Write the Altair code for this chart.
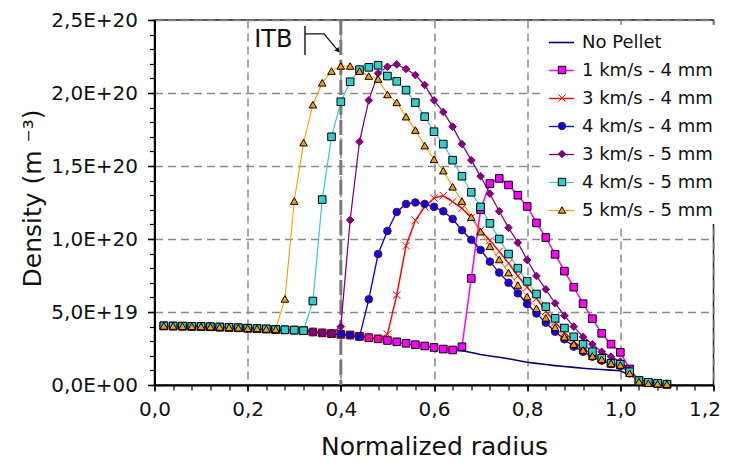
import altair as alt
import pandas as pd

# ---------------- data (density in units of 1E+18 m^-3) ----------------
R = [0.02, 0.04, 0.06, 0.08, 0.10, 0.12, 0.14, 0.16, 0.18, 0.20,
     0.22, 0.24, 0.26, 0.28, 0.30, 0.32, 0.34, 0.36, 0.38, 0.40,
     0.42, 0.44, 0.46, 0.48, 0.50, 0.52, 0.54, 0.56, 0.58, 0.60,
     0.62, 0.64, 0.66, 0.68, 0.70, 0.72, 0.74, 0.76, 0.78, 0.80,
     0.82, 0.84, 0.86, 0.88, 0.90, 0.92, 0.94, 0.96, 0.98, 1.00,
     1.02, 1.04, 1.06, 1.08, 1.10]

SERIES = ["No Pellet", "1 km/s - 4 mm", "3 km/s - 4 mm", "4 km/s - 4 mm",
          "3 km/s - 5 mm", "4 km/s - 5 mm", "5 km/s - 5 mm"]

NO_PELLET = [40.5, 40.4, 40.3, 40.2, 40.1, 39.9, 39.7, 39.5, 39.2, 38.9,
             38.7, 38.4, 38.1, 37.8, 37.6, 37.2, 36.3, 35.7, 35.2, 34.7,
             34.2, 33.3, 32.4, 31.6, 30.5, 29.6, 28.6, 27.6, 26.7, 25.7,
             24.6, 24.0, 23.4, 22.2, 20.9, 19.9, 19.0, 18.0, 16.8, 15.6,
             14.8, 14.0, 13.3, 12.7, 12.1, 11.5, 11.0, 10.6, 10.2, 9.8,
             6.8, 3.5, 2.0, 1.2, 0.6]

V1_4MM = [40.5, 40.4, 40.3, 40.2, 40.1, 39.9, 39.7, 39.5, 39.2, 38.9,
          38.7, 38.4, 38.1, 37.8, 37.6, 37.2, 36.3, 35.7, 35.2, 34.7,
          34.2, 33.3, 32.4, 31.6, 30.5, 29.6, 28.6, 27.6, 26.7, 25.7,
          24.6, 24.0, 26.2, 73.0, 120.0, 138.0, 141.5, 137.0, 130.0, 122.3,
          111.0, 101.0, 89.5, 78.0, 67.0, 55.7, 45.4, 35.4, 28.0, 22.4,
          11.0, 3.0, 1.6, 1.0, 0.5]

V3_4MM = [40.5, 40.4, 40.3, 40.2, 40.1, 39.9, 39.7, 39.5, 39.2, 38.9,
          38.7, 38.4, 38.1, 37.8, 37.6, 37.2, 36.3, 35.7, 35.2, 34.7,
          34.2, 33.3, 32.4, 31.6, 34.7, 61.6, 95.4, 112.8, 122.0, 128.0,
          129.7, 125.5, 121.0, 114.6, 106.0, 99.0, 91.5, 83.5, 74.7, 67.0,
          59.4, 50.5, 43.0, 36.0, 30.0, 24.6, 20.8, 17.6, 14.8, 13.7,
          8.5, 3.0, 1.6, 1.0, 0.5]

V4_4MM = [40.5, 40.4, 40.3, 40.2, 40.1, 39.9, 39.7, 39.5, 39.2, 38.9,
          38.7, 38.4, 38.1, 37.8, 37.6, 37.2, 36.3, 35.7, 35.2, 34.7,
          34.2, 33.0, 58.7, 89.7, 105.5, 118.5, 124.0, 125.0, 124.0, 122.0,
          119.0, 113.7, 106.0, 99.5, 92.5, 84.5, 77.0, 70.0, 62.8, 55.5,
          49.0, 42.7, 36.5, 31.3, 26.3, 22.8, 19.4, 16.7, 14.4, 13.0,
          8.0, 2.8, 1.5, 1.0, 0.5]

V3_5MM = [40.5, 40.4, 40.3, 40.2, 40.1, 39.9, 39.7, 39.5, 39.2, 38.9,
          38.7, 38.4, 38.1, 37.8, 37.6, 37.2, 36.3, 35.7, 35.2, 40.0,
          113.0, 166.6, 195.0, 213.5, 218.0, 219.6, 216.4, 212.3, 205.5, 195.0,
          187.0, 177.0, 165.0, 154.0, 143.0, 131.0, 119.0, 107.7, 97.5, 85.6,
          74.7, 65.5, 56.0, 47.5, 40.0, 33.0, 27.9, 22.8, 19.4, 16.0,
          10.5, 3.5, 1.8, 1.1, 0.5]

V4_5MM = [40.5, 40.4, 40.3, 40.2, 40.1, 39.9, 39.7, 39.5, 39.2, 38.9,
          38.7, 38.4, 38.1, 37.8, 37.6, 37.2, 57.5, 127.0, 170.0, 194.0,
          207.7, 216.0, 217.6, 219.0, 211.6, 208.0, 202.0, 193.4, 183.8, 173.5,
          165.0, 154.0, 143.0, 132.0, 122.0, 110.7, 100.0, 89.7, 80.0, 71.0,
          62.3, 53.6, 45.7, 39.0, 33.0, 27.9, 22.8, 18.3, 14.8, 14.2,
          9.1, 3.0, 1.8, 1.2, 0.6]

V5_5MM = [40.5, 40.4, 40.3, 40.2, 40.1, 39.9, 39.7, 39.5, 39.2, 38.9,
          38.7, 38.4, 38.1, 59.0, 126.0, 166.0, 192.0, 207.0, 215.0, 218.5,
          218.5, 215.0, 211.6, 209.6, 199.0, 193.6, 183.8, 174.6, 164.0, 154.6,
          146.8, 135.8, 126.0, 115.0, 105.0, 95.0, 86.0, 77.0, 68.5, 60.5,
          52.5, 46.0, 39.5, 33.0, 28.0, 24.0, 19.9, 17.6, 14.8, 13.7,
          8.0, 2.3, 1.2, 0.9, 0.6]

VALUES = [NO_PELLET, V1_4MM, V3_4MM, V4_4MM, V3_5MM, V4_5MM, V5_5MM]
UNIT = 1e18

X_TICKS = [0.0, 0.2, 0.4, 0.6, 0.8, 1.0, 1.2]
Y_TICKS = [0.0, 5e19, 1e20, 1.5e20, 2e20, 2.5e20]
X_MINOR = [0.0, 0.04, 0.08, 0.12, 0.16, 0.2, 0.24, 0.28, 0.32, 0.36, 0.4,
           0.44, 0.48, 0.52, 0.56, 0.6, 0.64, 0.68, 0.72, 0.76, 0.8,
           0.84, 0.88, 0.92, 0.96, 1.0, 1.04, 1.08, 1.12, 1.16, 1.2]
Y_MINOR = [0, 1e19, 2e19, 3e19, 4e19, 5e19, 6e19, 7e19, 8e19, 9e19, 1e20,
           1.1e20, 1.2e20, 1.3e20, 1.4e20, 1.5e20, 1.6e20, 1.7e20, 1.8e20,
           1.9e20, 2e20, 2.1e20, 2.2e20, 2.3e20, 2.4e20, 2.5e20]

# ITB annotation (data coordinates)
ITB_R = [0.4]
ITB_LABEL = ["ITB"]
ITB_LABEL_POS = [0.255, 236.0]
ITB_BAR = [0.323, 226.0, 246.0]
ITB_ARROW_R = [0.323, 0.364, 0.394]
ITB_ARROW_N = [240.5, 240.5, 229.0]

# ---------------- style ----------------
LINE_COLORS = ["#000080", "#FF00FF", "#FF0000", "#0000FF", "#800080", "#33CCCC", "#FF9900"]
LINE_WIDTHS = [1.6, 1.1, 1.1, 1.1, 1.1, 1.1, 1.1]
PT_SERIES = SERIES[1:]
MARKER_FILLS = ["#FF00FF", "#FF0000", "#0000FF", "#800080", "#33CCCC", "#FF9900"]
MARKER_EDGES = ["#000000", "#FF0000", "#800000", "#800080", "#000000", "#000000"]
MARKER_SHAPES = ["square", "M-1,-1L1,1M-1,1L1,-1", "circle", "diamond", "square", "triangle-up"]
FONT = "DejaVu Sans"

rows = []
for k, (name, vals) in enumerate(zip(SERIES, VALUES)):
    for r, v in zip(R, vals):
        rows.append({"series": name, "rank": k, "r": r, "n": v * UNIT})
df = pd.DataFrame(rows)

xs = alt.Scale(domain=[0, 1.2], nice=False, zero=False)
ys = alt.Scale(domain=[0, 2.5e20], nice=False, zero=False)

x_main = alt.Axis(
    orient="bottom", values=X_TICKS,
    labelExpr="replace(format(datum.value, '.1f'), '.', ',')",
    labelFont=FONT, labelFontSize=20, labelColor="#111111", labelFlush=False,
    labelOffset={"condition": {"test": "datum.value > 1.1", "value": -9}, "value": 0},
    labelPadding=8, tickSize=6, tickWidth=1.5, tickColor="#000000",
    domainColor="#000000", domainWidth=2,
    grid=True, gridColor="#8a8a8a", gridDash=[8, 5], gridWidth=1.5,
    title="Normalized radius", titleFont=FONT, titleFontSize=25,
    titleFontWeight="normal", titleColor="#111111", titleY=69,
    titleBaseline="alphabetic",
)
y_main = alt.Axis(
    orient="left", values=Y_TICKS,
    labelExpr=("datum.value == 0 ? '0,0E+00' : "
               "replace(format(datum.value / pow(10, floor(log(datum.value) / LN10 + 1e-9)), '.1f'), '.', ',')"
               " + 'E+' + format(floor(log(datum.value) / LN10 + 1e-9), '02d')"),
    labelFont=FONT, labelFontSize=20, labelColor="#111111", labelFlush=False,
    labelPadding=10, tickSize=7, tickWidth=1.5, tickColor="#000000",
    domainColor="#000000", domainWidth=2,
    grid=True, gridColor="#8a8a8a", gridDash=[8, 5], gridWidth=1.5,
    title="Density (m ⁻³)", titleFont=FONT, titleFontSize=25,
    titleFontWeight="normal", titleColor="#111111", titleAngle=-90,
    titleX=-122, titleY=178, titleAlign="center", titleBaseline="middle",
)
x_minor = alt.Axis(orient="bottom", values=X_MINOR, labels=False, domain=False,
                   grid=False, tickSize=5, tickWidth=1.2, tickColor="#000000", title=None)
y_minor = alt.Axis(orient="left", values=Y_MINOR, labels=False, domain=False,
                   grid=False, tickSize=5, tickWidth=1.2, tickColor="#000000", title=None)

legend_lines = alt.Legend(
    title=None, orient="none", legendX=389.5, legendY=5,
    symbolType="stroke", symbolSize=625, symbolStrokeWidth=1.6,
    labelFont=FONT, labelFontSize=18, labelColor="#111111", labelOffset=7,
    labelLimit=400, rowPadding=5, padding=4, fillColor="white",
)
legend_marks = alt.Legend(
    title=None, orient="none", legendX=398.5, legendY=41,
    symbolSize=55, symbolStrokeWidth=1, symbolOpacity=1,
    labelFont=FONT, labelFontSize=18, labelExpr="''", labelOpacity=0, labelOffset=7,
    rowPadding=10, padding=0,
)

# ITB thick dashed line (carries the minor x ticks)
itb_df = pd.DataFrame({"r": ITB_R})
itb_line = alt.Chart(itb_df).mark_rule(
    color="#7a7a7a", strokeWidth=3, strokeDash=[15, 5]
).encode(x=alt.X("r:Q", scale=xs, axis=x_minor))

lines = alt.Chart(df).mark_line().encode(
    x=alt.X("r:Q", scale=xs, axis=x_main),
    y=alt.Y("n:Q", scale=ys, axis=y_main),
    color=alt.Color("series:N", scale=alt.Scale(domain=SERIES, range=LINE_COLORS),
                    legend=legend_lines),
    strokeWidth=alt.StrokeWidth("series:N", scale=alt.Scale(domain=SERIES, range=LINE_WIDTHS),
                                legend=None),
    order=alt.Order("r:Q"),
)

points = alt.Chart(df).transform_filter(
    alt.datum.series != "No Pellet"
).mark_point(filled=True, opacity=1, size=58, strokeWidth=1).encode(
    x=alt.X("r:Q", scale=xs, axis=None),
    y=alt.Y("n:Q", scale=ys, axis=None),
    fill=alt.Fill("series:N", scale=alt.Scale(domain=PT_SERIES, range=MARKER_FILLS),
                  legend=legend_marks),
    stroke=alt.Stroke("series:N", scale=alt.Scale(domain=PT_SERIES, range=MARKER_EDGES),
                      legend=legend_marks),
    shape=alt.Shape("series:N", scale=alt.Scale(domain=PT_SERIES, range=MARKER_SHAPES),
                    legend=legend_marks),
    order=alt.Order("rank:Q"),
)

label_df = pd.DataFrame({"text": ITB_LABEL, "r": [ITB_LABEL_POS[0]],
                         "n": [ITB_LABEL_POS[1] * UNIT]})
itb_text = alt.Chart(label_df).mark_text(
    font=FONT, fontSize=24, align="center", baseline="middle", color="#111111"
).encode(
    x=alt.X("r:Q", scale=xs, axis=None),
    y=alt.Y("n:Q", scale=ys, axis=y_minor),
    text="text:N",
)

bar_df = pd.DataFrame({"r": [ITB_BAR[0]], "n": [ITB_BAR[1] * UNIT], "n2": [ITB_BAR[2] * UNIT]})
itb_bar = alt.Chart(bar_df).mark_rule(color="#555555", strokeWidth=2).encode(
    x=alt.X("r:Q", scale=xs, axis=None),
    y=alt.Y("n:Q", scale=ys, axis=None),
    y2="n2:Q",
)

arrow_df = pd.DataFrame({"r": ITB_ARROW_R, "n": [v * UNIT for v in ITB_ARROW_N],
                         "i": list(range(len(ITB_ARROW_R)))})
itb_arrow = alt.Chart(arrow_df).mark_line(color="#111111", strokeWidth=1.3).encode(
    x=alt.X("r:Q", scale=xs, axis=None),
    y=alt.Y("n:Q", scale=ys, axis=None),
    order="i:Q",
)
head_df = arrow_df.tail(1)
itb_head = alt.Chart(head_df).mark_point(
    shape="triangle-up", filled=True, size=30, angle=140, color="#111111", opacity=1
).encode(
    x=alt.X("r:Q", scale=xs, axis=None),
    y=alt.Y("n:Q", scale=ys, axis=None),
)

chart = alt.layer(
    itb_line, lines, points, itb_text, itb_bar, itb_arrow, itb_head
).resolve_axis(
    x="independent", y="independent"
).properties(
    width=559, height=365,
    autosize=alt.AutoSizeParams(type="none"),
    padding={"left": 146.5, "top": 12, "right": 7, "bottom": 75},
).configure_view(
    stroke="#222222", strokeWidth=1.5
)

chart.save("out.html", embed_options={"renderer": "svg", "actions": False})
